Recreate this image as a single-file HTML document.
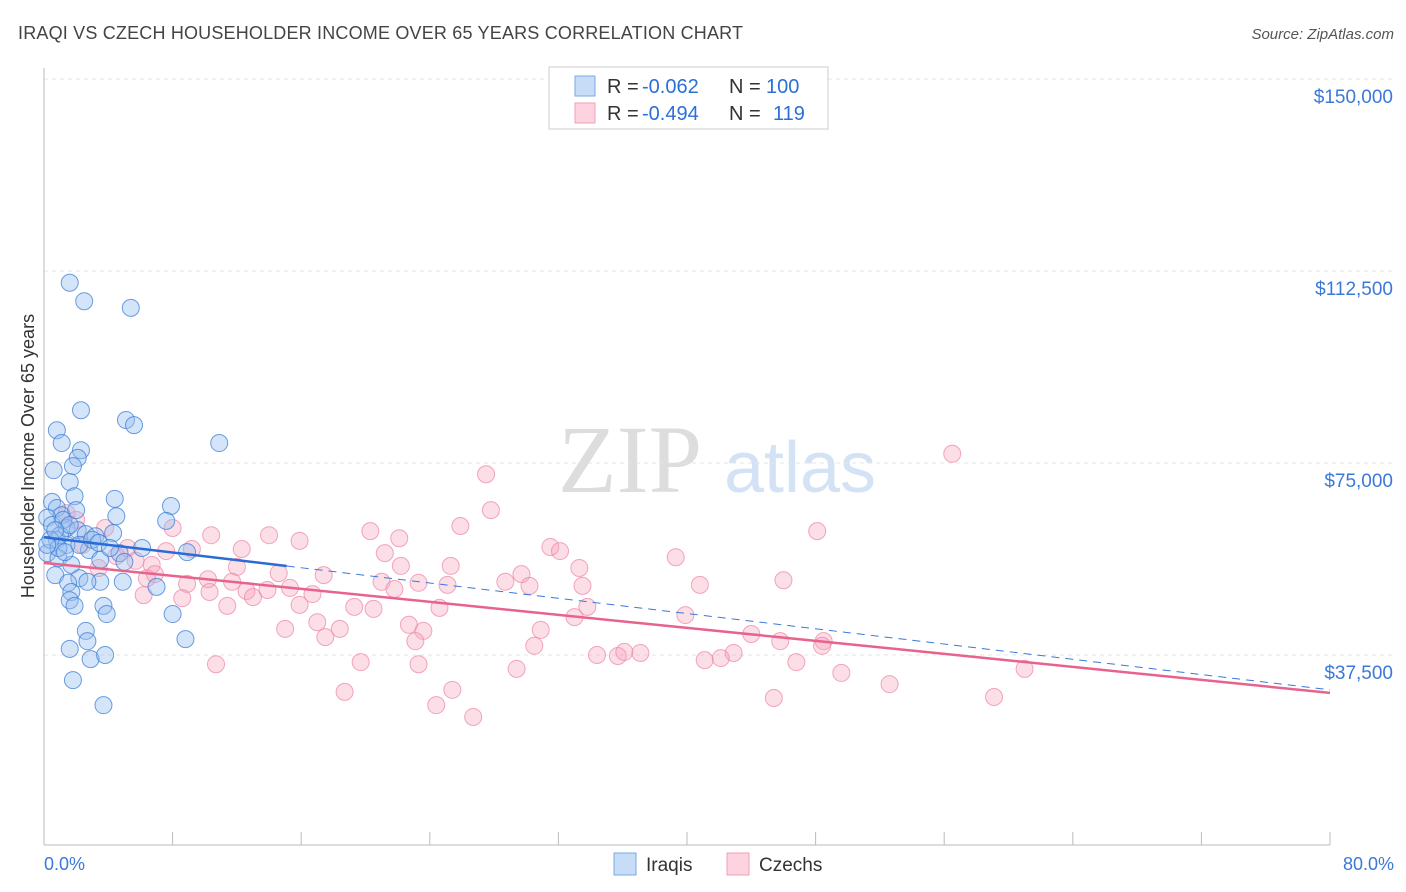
<!DOCTYPE html>
<html><head><meta charset="utf-8">
<style>
body{margin:0;background:#fff;font-family:"Liberation Sans",sans-serif;}
svg{display:block}
</style></head>
<body>
<svg id="chart" width="1406" height="892">
<text x="18" y="39" font-size="18" fill="#444" textLength="725">IRAQI VS CZECH HOUSEHOLDER INCOME OVER 65 YEARS CORRELATION CHART</text>
<text x="1394" y="39" font-size="15" fill="#555" font-style="italic" text-anchor="end">Source: ZipAtlas.com</text>
<text x="630" y="492" font-size="96" fill="#ddd" font-family="Liberation Serif,serif" text-anchor="middle">ZIP</text>
<text x="800" y="492" font-size="72" fill="#d3e3f5" text-anchor="middle">atlas</text>
<text transform="translate(34,456) rotate(-90)" font-size="18" fill="#333" text-anchor="middle">Householder Income Over 65 years</text>
<g id="grid"></g><g id="marks"></g>
<rect x="549" y="67" width="279" height="62" fill="#fff" stroke="#ccc"/>
<rect x="575" y="76" width="20" height="20" fill="#c6dcf7" stroke="#7aa8e6"/>
<rect x="575" y="103" width="20" height="20" fill="#fcd3df" stroke="#f0a0b8"/>
<g font-size="20">
<text x="607" y="93" fill="#333">R =</text><text x="642" y="93" fill="#2c6fd6">-0.062</text>
<text x="729" y="93" fill="#333">N =</text><text x="766" y="93" fill="#2c6fd6">100</text></g>
<g font-size="20">
<text x="607" y="120" fill="#333">R =</text><text x="642" y="120" fill="#2c6fd6">-0.494</text>
<text x="729" y="120" fill="#333">N =</text><text x="773" y="120" fill="#2c6fd6">119</text></g>
<rect x="614" y="853" width="22" height="22" fill="#c6dcf7" stroke="#7aa8e6"/>
<text x="646" y="871" font-size="19" fill="#333">Iraqis</text>
<rect x="727" y="853" width="22" height="22" fill="#fcd3df" stroke="#f0a0b8"/>
<text x="759" y="871" font-size="19" fill="#333">Czechs</text>
<text x="44" y="870" font-size="18" fill="#3b78d8">0.0%</text>
<text x="1394" y="870" font-size="18" fill="#3b78d8" text-anchor="end">80.0%</text>
</svg>
<script>
const yTicks=[37.5,75,112.5,150];
const yTickLabels=["$37,500","$75,000","$112,500","$150,000"];
const xTicks=[0,8,16,24,32,40,48,56,64,72,80];
const iraqiX=[1.6,2.5,5.4,2.3,5.1,5.6,0.8,10.9,1.1,2.3,2.1,1.8,0.6,1.6,1.9,4.4,0.5,7.9,4.5,7.6,0.8,1.1,0.2,0.5,1.4,2.1,2.6,3.2,4.3,6.1,0.8,1.4,2.8,4.7,0.2,0.9,1.7,3.5,5.0,8.9,0.7,2.2,3.5,4.9,1.5,2.7,7.0,1.7,1.6,1.9,3.7,3.9,8.0,2.6,2.7,8.8,1.6,2.9,3.8,1.8,3.7,1.0,1.2,1.6,0.4,0.9,1.3,2.2,3.0,3.4,4.1,0.2,0.7,2.0];
const iraqiY=[110.2,106.6,105.3,85.3,83.4,82.4,81.4,78.9,78.9,77.5,76.0,74.4,73.6,71.3,68.5,68.0,67.4,66.6,64.6,63.7,66.2,64.8,64.3,62.9,62.3,61.9,61.1,60.7,61.3,58.4,60.0,59.0,58.0,57.4,57.4,56.4,55.1,56.1,55.7,57.6,53.1,52.5,51.8,51.8,51.6,51.8,50.8,49.8,48.2,47.1,47.1,45.5,45.5,42.2,40.2,40.6,38.7,36.7,37.5,32.6,27.7,60.9,63.9,62.9,60.0,58.4,57.6,59.0,60.0,59.4,58.4,59.0,61.9,65.8];
const czechX=[56.5,27.5,27.8,25.9,48.1,20.3,22.1,31.5,32.1,39.3,21.2,15.9,14.0,10.4,12.3,9.2,8.0,7.6,5.2,5.7,3.8,4.5,2.4,1.4,2.0,22.2,25.3,33.3,17.4,14.6,12.0,6.7,3.4,46.0,40.8,29.7,28.7,30.2,33.5,8.9,10.2,11.7,13.9,15.3,16.7,21.0,21.8,23.3,25.1,6.4,6.9,6.2,8.6,10.3,12.6,13.0,15.9,19.3,20.5,24.6,33.8,33.0,39.9,11.4,17.0,15.0,18.4,17.5,22.7,23.6,30.9,44.0,45.8,48.5,48.4,23.1,30.5,34.4,35.7,36.1,37.1,42.9,41.1,42.1,46.8,10.7,19.7,23.3,29.4,49.6,61.0,52.6,18.7,25.4,45.4,24.4,26.7,59.1];
const czechY=[76.8,72.8,65.8,62.7,61.7,61.7,60.3,58.6,57.8,56.6,57.4,59.8,60.9,60.9,58.2,58.2,62.3,57.8,58.4,55.9,62.3,56.8,59.0,65.2,63.9,54.9,54.9,54.5,53.1,53.5,54.7,55.1,54.5,52.1,51.2,53.3,51.8,51.0,51.0,51.4,52.3,51.8,50.2,50.6,49.4,51.8,50.4,51.6,51.2,52.5,53.3,49.2,48.6,49.8,50.0,48.8,47.3,46.9,46.5,46.7,46.9,44.9,45.3,47.1,43.9,42.6,42.6,41.0,43.4,42.2,42.4,41.6,40.2,40.2,39.3,40.2,39.3,37.5,37.3,38.1,37.9,37.9,36.5,36.9,36.1,35.7,36.1,35.7,34.8,34.0,34.8,31.8,30.3,30.7,29.1,27.7,25.4,29.3];
const iraqiTrend=[60.5,30.7]; // value at 0% and 80%
const czechTrend=[55.5,30.1];
const iraqiSolidEnd=15.1;

const NS="http://www.w3.org/2000/svg";
const X0=44,X1=1330,Y0=847,PXK=192/37.5;
const sx=v=>X0+(v/80)*(X1-X0);
const sy=v=>Y0-v*PXK;
function mk(t,a,p){const e=document.createElementNS(NS,t);for(const k in a)e.setAttribute(k,a[k]);p.appendChild(e);return e;}
const grid=document.getElementById('grid'),marks=document.getElementById('marks');
yTicks.forEach((v,i)=>{
 const l=mk('line',{x1:X0,x2:1394,y1:sy(v),y2:sy(v),stroke:'#e4e4e4','stroke-dasharray':'4,4'},grid);
 
 
 const t=mk('text',{x:1393,y:sy(v)+24,'font-size':19,fill:'#3b78d8','text-anchor':'end'},grid);
 t.textContent=yTickLabels[i];
 
 
});
const xa=mk('line',{x1:X0,x2:X1,y1:845,y2:845,stroke:'#bbb'},grid);


const ya=mk('line',{x1:X0,x2:X0,y1:68,y2:845,stroke:'#bbb'},grid);


xTicks.forEach(v=>{
 const l=mk('line',{x1:sx(v),x2:sx(v),y1:832,y2:845,stroke:'#bbb'},grid);
 
 
});
czechX.forEach((x,i)=>{
 const c=mk('circle',{cx:sx(x),cy:sy(czechY[i]),r:8.5,fill:'rgba(246,160,186,0.35)',stroke:'rgba(236,130,165,0.7)','stroke-width':1},marks);
 
 
});
iraqiX.forEach((x,i)=>{
 const c=mk('circle',{cx:sx(x),cy:sy(iraqiY[i]),r:8.5,fill:'rgba(150,190,240,0.4)',stroke:'rgba(60,125,215,0.75)','stroke-width':1},marks);
 
 
});
const ti=v=>iraqiTrend[0]+(iraqiTrend[1]-iraqiTrend[0])*v/80;
const tc=v=>czechTrend[0]+(czechTrend[1]-czechTrend[0])*v/80;
const l1=mk('line',{x1:sx(0),y1:sy(tc(0)),x2:sx(80),y2:sy(tc(80)),stroke:'#e8628e','stroke-width':2.5},marks);


const l2=mk('line',{x1:sx(iraqiSolidEnd),y1:sy(ti(iraqiSolidEnd)),x2:sx(80),y2:sy(ti(80)),stroke:'#3b78d8','stroke-width':1,'stroke-dasharray':'8,6'},marks);


const l3=mk('line',{x1:sx(0),y1:sy(ti(0)),x2:sx(iraqiSolidEnd),y2:sy(ti(iraqiSolidEnd)),stroke:'#2a6bd4','stroke-width':2.5},marks);


</script>
</body></html>
